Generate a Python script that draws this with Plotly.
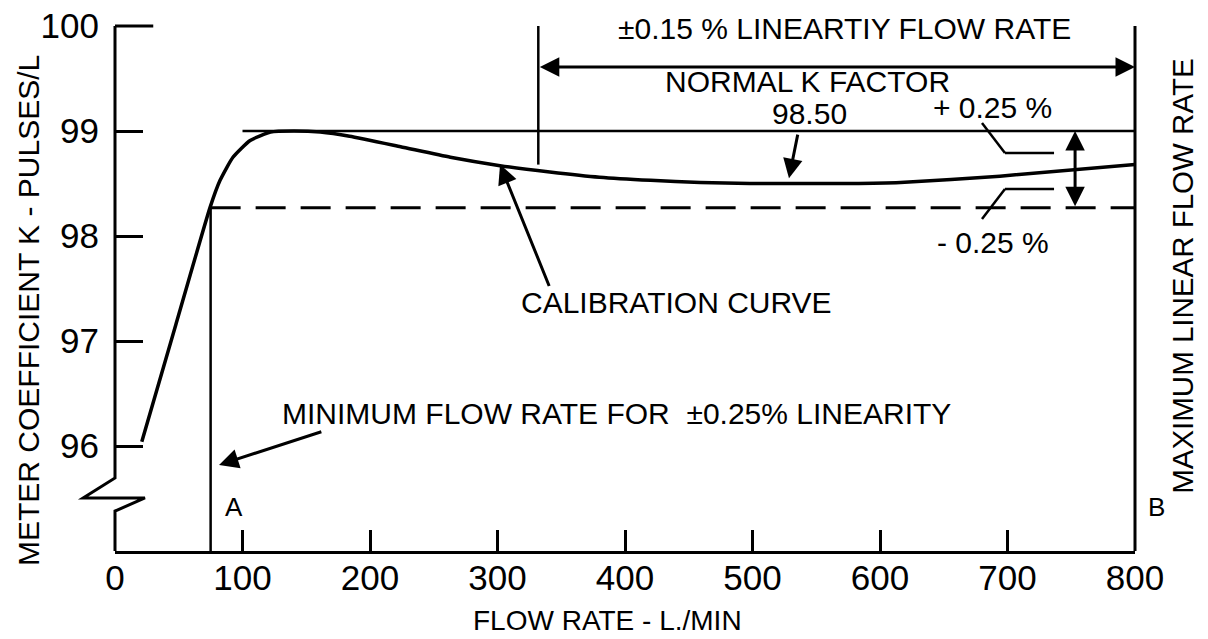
import plotly.graph_objects as go

# ---------------- data ----------------
flow = [21, 47.7, 74.5, 82.4, 92.5, 106, 122, 140, 161, 184, 224, 263, 302, 341, 380,
        420, 459, 498, 537, 577, 616, 694, 800]
k_factor = [96.04, 97.155, 98.27, 98.53, 98.75, 98.91, 98.99, 99.0, 98.99, 98.95,
            98.85, 98.75, 98.67, 98.61, 98.56, 98.53, 98.51, 98.50, 98.50, 98.50,
            98.51, 98.57, 98.68]

x_ticks = [0, 100, 200, 300, 400, 500, 600, 700, 800]
y_ticks = [96, 97, 98, 99, 100]

upper_limit = 99.0
lower_limit = 98.27
min_flow = 75
lin_start = 332
max_flow = 800

X0, X1 = 0, 800
Y0, Y1 = 95, 100

FONT = "Liberation Sans, Arial, sans-serif"
TXT = 30


def xd(x):
    return (x - X0) / (X1 - X0)


def yd(y):
    return (y - Y0) / (Y1 - Y0)


fig = go.Figure()
fig.add_trace(go.Scatter(x=flow, y=k_factor, mode="lines",
                         line=dict(color="black", width=3.5, shape="spline", smoothing=0.5),
                         showlegend=False, hoverinfo="skip"))

shapes = []


def seg(xa, ya, xb, yb, width=2.5, dash=None):
    shapes.append(dict(type="line", xref="x domain", yref="y domain",
                       x0=xd(xa), y0=yd(ya), x1=xd(xb), y1=yd(yb),
                       line=dict(color="black", width=width, dash=dash)))


# left axis with break
brk = [(0, 100), (0, 95.695), (-25, 95.505), (23.5, 95.505), (0, 95.38), (0, 95)]
path = "M " + " L ".join(f"{xd(a)},{yd(b)}" for a, b in brk)
shapes.append(dict(type="path", xref="x domain", yref="y domain", path=path,
                   line=dict(color="black", width=3)))
seg(0, 100, 30, 100, width=3)

# reference lines
seg(100, upper_limit, max_flow, upper_limit, width=2.5)
seg(min_flow, lower_limit, max_flow, lower_limit, width=3, dash="30px,15px")
seg(min_flow, 95, min_flow, 98.27, width=2.5)
seg(max_flow, 95, max_flow, 100, width=3)
seg(lin_start, 98.68, lin_start, 100, width=2.5)

# +/- 0.25 % leaders
seg(680, 99.076, 698, 98.79)
seg(698, 98.79, 736.5, 98.79)
seg(680, 98.162, 698, 98.448)
seg(698, 98.448, 736.5, 98.448)

annotations = []


def arrow(tx, ty, hx, hy, both=False):
    a = dict(x=hx, y=hy, ax=tx, ay=ty, xref="x", yref="y", axref="x", ayref="y",
             text="", showarrow=True, arrowhead=2, arrowsize=1.3, arrowwidth=3,
             arrowcolor="black")
    if both:
        a.update(arrowside="end+start", startarrowhead=2, startarrowsize=1.3)
    annotations.append(a)


def label(x, y, text, xanchor="center", size=TXT, angle=0, xref="x domain", yref="y domain"):
    if xref == "x domain":
        x = xd(x)
    if yref == "y domain":
        y = yd(y)
    annotations.append(dict(x=x, y=y, text=text, xref=xref, yref=yref, showarrow=False,
                            xanchor=xanchor, yanchor="middle", textangle=angle,
                            font=dict(family=FONT, size=size, color="black")))


arrow(lin_start, 99.61, max_flow, 99.61, both=True)
arrow(753, 98.27, 753, 99.0, both=True)
arrow(535.7, 98.98, 528.6, 98.55)
arrow(341, 97.51, 302, 98.68)
arrow(163, 96.14, 81.6, 95.82)

label(572.5, 99.98, "±0.15 % LINEARTIY FLOW RATE")
label(543.5, 99.47, "NORMAL K FACTOR")
label(545, 99.17, "98.50")
label(688.6, 99.22, "+ 0.25 %")
label(688.6, 97.94, "- 0.25 %")
label(440, 97.37, "CALIBRATION CURVE")
label(129.4, 96.31, "MINIMUM FLOW RATE FOR  ±0.25% LINEARITY", xanchor="left")
label(93.3, 95.42, "A", size=26)
label(817, 95.42, "B", size=26)
label(837.6, 97.62, "MAXIMUM LINEAR FLOW RATE", angle=-90, size=29.5)
label(-0.0853, 0.459, "METER COEFFICIENT K - PULSES/L", angle=-90, xref="paper", yref="paper")
label(0.483, -0.133, "FLOW RATE - L./MIN", size=28, xref="paper", yref="paper")

fig.update_layout(
    width=1208, height=639,
    margin=dict(l=115, r=73, t=26, b=88, autoexpand=False),
    paper_bgcolor="white", plot_bgcolor="white",
    showlegend=False,
    shapes=shapes, annotations=annotations,
    font=dict(family=FONT, color="black"),
    xaxis=dict(range=[X0, X1], tickvals=x_ticks, ticktext=[str(v) for v in x_ticks],
               ticks="inside", ticklen=21, tickwidth=3, tickcolor="black",
               showline=True, linecolor="black", linewidth=3,
               showgrid=False, zeroline=False, automargin=False,
               ticklabeloverflow="allow", ticklabelstandoff=-6,
               tickfont=dict(family=FONT, size=35, color="black")),
    yaxis=dict(range=[Y0, Y1], tickvals=y_ticks, ticktext=[str(v) for v in y_ticks],
               ticks="inside", ticklen=28, tickwidth=3, tickcolor="black",
               showline=False, showgrid=False, zeroline=False, automargin=False,
               ticklabelstandoff=15, ticklabeloverflow="allow",
               tickfont=dict(family=FONT, size=35, color="black")),
)

fig.write_html("out.html", config={"displayModeBar": False},
               post_script="document.body.style.margin='0';document.body.style.overflow='hidden';")
